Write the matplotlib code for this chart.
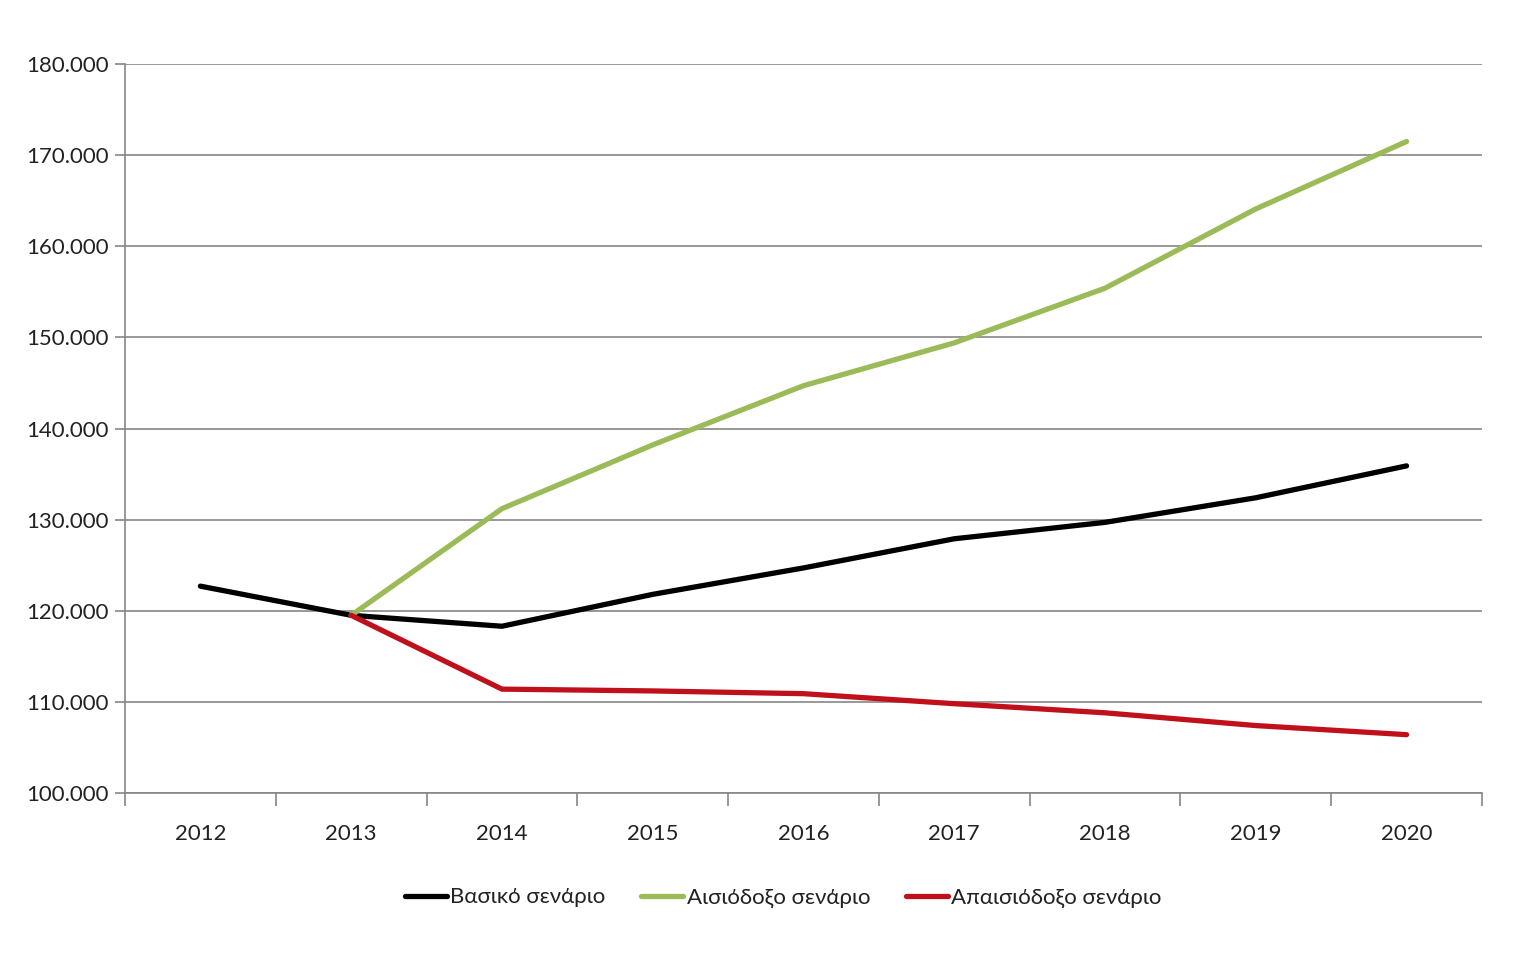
import numpy as np
import matplotlib.pyplot as plt
from matplotlib.ticker import FuncFormatter, FixedLocator

plt.rcParams['font.family'] = ['Lato', 'DejaVu Sans']

years = ['2012', '2013', '2014', '2015', '2016', '2017', '2018', '2019', '2020']
vasiko = [122700, 119500, 118300, 121800, 124700, 127900, 129700, 132400, 135900]
aisiodoxo = [np.nan, 119500, 131200, 138200, 144700, 149400, 155400, 164100, 171500]
apaisiodoxo = [np.nan, 119500, 111400, 111200, 110900, 109800, 108800, 107400, 106400]

fig = plt.figure(figsize=(15.3, 9.66), dpi=100)
ax = fig.add_axes([0.0817, 0.1791, 0.8869, 0.7546])

x = np.arange(len(years))
ax.plot(x, vasiko, color='#000000', lw=3.8, label='Βασικό σενάριο', solid_capstyle='round')
ax.plot(x, aisiodoxo, color='#9BBB59', lw=3.8, label='Αισιόδοξο σενάριο', solid_capstyle='round')
ax.plot(x, apaisiodoxo, color='#C0101C', lw=3.8, label='Απαισιόδοξο σενάριο', solid_capstyle='round')

ax.set_xlim(-0.5, len(years) - 0.5)
ax.set_ylim(100000, 180000)
ax.set_yticks(np.arange(100000, 180001, 10000))
ax.yaxis.set_major_formatter(FuncFormatter(lambda v, p: f'{int(v):,}'.replace(',', '.')))
ax.set_xticks(x)
ax.set_xticklabels(years)
ax.xaxis.set_minor_locator(FixedLocator(np.arange(-0.5, len(years), 1.0)))
ax.tick_params(axis='x', which='major', length=0, pad=22, labelsize=16, labelcolor='#222222')
ax.tick_params(axis='x', which='minor', length=9, color='#868686', width=1.2)
ax.tick_params(axis='y', length=7, color='#868686', width=1.2, labelsize=16, pad=5,
               labelcolor='#222222')

ax.grid(axis='y', color='#868686', lw=1.2)
ax.set_axisbelow(True)
for s in ['top', 'right']:
    ax.spines[s].set_visible(False)
for s in ['left', 'bottom']:
    ax.spines[s].set_color('#868686')
    ax.spines[s].set_linewidth(1.2)

ax.legend(loc='upper center', bbox_to_anchor=(0.485, -0.102), ncol=3, frameon=False,
          fontsize=16, handlelength=1.9, handletextpad=0.15, columnspacing=1.6,
          labelcolor='#222222')

fig.savefig('out.png', dpi=100)
